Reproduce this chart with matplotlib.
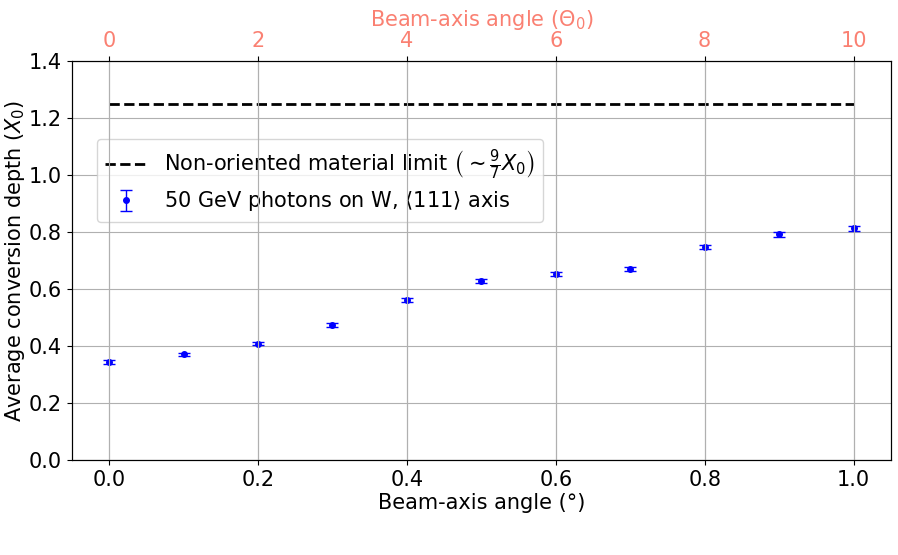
import matplotlib
matplotlib.use("Agg")
import matplotlib.pyplot as plt
import numpy as np

angles = [0.0, 0.1, 0.2, 0.3, 0.4, 0.5, 0.6, 0.7, 0.8, 0.9, 1.0]
depth = [0.344, 0.371, 0.409, 0.474, 0.560, 0.627, 0.652, 0.669, 0.747, 0.792, 0.813]
depth_err = [0.006, 0.006, 0.006, 0.006, 0.007, 0.007, 0.007, 0.007, 0.008, 0.008, 0.009]
limit_value = 1.25
limit_x = [0.0, 1.0]
top_ticks = [0, 2, 4, 6, 8, 10]

plt.rcParams['font.size'] = 15
fig = plt.figure(figsize=(8.98, 5.55), dpi=100)
ax = fig.add_axes([0.080, 0.171, 0.912, 0.719])

ax.plot(limit_x, [limit_value, limit_value], 'k--', lw=2,
        label=r"Non-oriented material limit $\left(\sim\frac{9}{7}X_0\right)$")
ax.errorbar(angles, depth, yerr=depth_err, fmt='o', color='blue', ecolor='blue',
            markersize=4, capsize=4, elinewidth=1,
            label=r"50 GeV photons on W, $\langle 111\rangle$ axis")

ax.set_xlim(-0.05, 1.05)
ax.set_ylim(0, 1.4)
ax.set_xticks([0.0, 0.2, 0.4, 0.6, 0.8, 1.0])
ax.set_yticks([0.0, 0.2, 0.4, 0.6, 0.8, 1.0, 1.2, 1.4])
ax.set_xlabel("Beam-axis angle (°)", labelpad=2)
ax.set_ylabel(r"Average conversion depth ($X_0$)", labelpad=1)
ax.grid(True, color='#b0b0b0', lw=0.8)
ax.legend(loc='upper left', bbox_to_anchor=(0.018, 0.83), fontsize=15,
          labelspacing=0.35)

ax2 = ax.twiny()
ax2.set_xlim(-0.5, 10.5)
ax2.set_xticks(top_ticks)
ax2.tick_params(axis='x', colors='black', labelcolor='salmon')
ax2.set_xlabel(r"Beam-axis angle ($\Theta_0$)", color='salmon')
ax2.grid(True, color='#b0b0b0', lw=0.8)

fig.savefig("out.png", dpi=100)
